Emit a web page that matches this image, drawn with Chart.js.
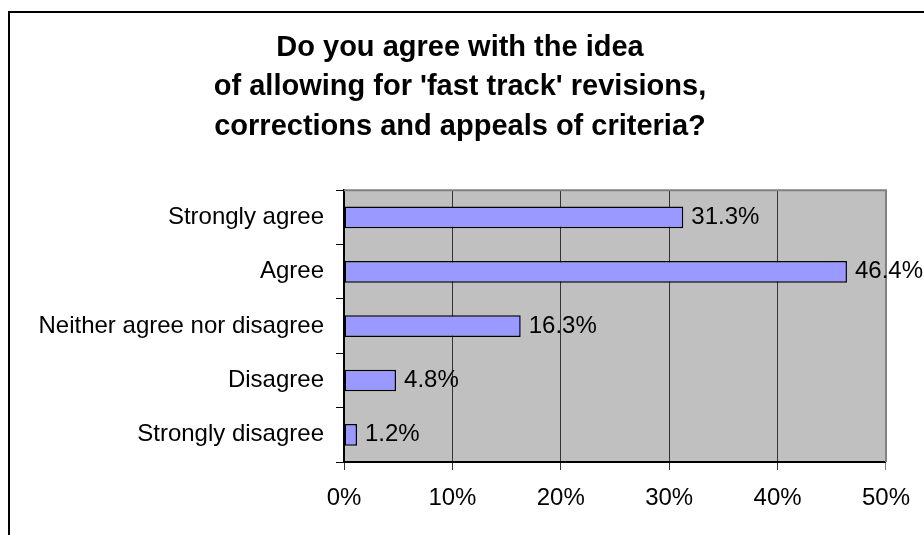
<!DOCTYPE html>
<html>
<head>
<meta charset="utf-8">
<script src="https://cdn.jsdelivr.net/npm/chart.js@4/dist/chart.umd.min.js"></script>
<style>
  html, body { margin: 0; padding: 0; background: #fff; overflow: hidden; }
  canvas { display: block; }
</style>
</head>
<body>
<canvas id="agree-chart" width="924" height="535"></canvas>
<script>
const titleLines = [
  "Do you agree with the idea",
  "of allowing for 'fast track' revisions,",
  "corrections and appeals of criteria?"
];
const answers = [
  'Strongly agree',
  'Agree',
  'Neither agree nor disagree',
  'Disagree',
  'Strongly disagree'
];
const shares = [31.3, 46.4, 16.3, 4.8, 1.2];
const xTicks = [0, 10, 20, 30, 40, 50];

const FONT = "'Liberation Sans', Arial, Helvetica, sans-serif";

// plot background, grey top/right edge, outer frame
const decorations = {
  id: 'decorations',
  beforeDraw(chart) {
    const { ctx, chartArea: a } = chart;
    ctx.save();
    ctx.fillStyle = '#c0c0c0';
    ctx.fillRect(a.left, a.top, a.right - a.left, a.bottom - a.top);
    ctx.restore();
  },
  beforeDatasetsDraw(chart) {
    const { ctx, chartArea: a } = chart;
    ctx.save();
    ctx.strokeStyle = '#808080';
    ctx.lineWidth = 2;
    ctx.beginPath();
    ctx.moveTo(a.left, a.top);
    ctx.lineTo(a.right, a.top);
    ctx.lineTo(a.right, a.bottom);
    ctx.stroke();
    ctx.restore();
  },
  afterDraw(chart) {
    const ctx = chart.ctx;
    ctx.save();
    ctx.strokeStyle = '#000';
    ctx.lineWidth = 2;
    ctx.strokeRect(9, 12, 1000, 1000);
    ctx.restore();
  }
};

// value labels to the right of each bar
const valueLabels = {
  id: 'valueLabels',
  afterDatasetsDraw(chart) {
    const ctx = chart.ctx;
    const meta = chart.getDatasetMeta(0);
    ctx.save();
    ctx.font = '24px ' + FONT;
    ctx.fillStyle = '#000';
    ctx.textAlign = 'left';
    ctx.textBaseline = 'middle';
    meta.data.forEach((bar, i) => {
      ctx.fillText(shares[i].toFixed(1) + '%', bar.x + 8, bar.y);
    });
    ctx.restore();
  }
};

new Chart(document.querySelector('#agree-chart').getContext('2d'), {
  type: 'bar',
  data: {
    labels: answers,
    datasets: [{
      label: '',
      data: shares,
      backgroundColor: '#9999ff',
      borderColor: '#000',
      borderWidth: 1.5,
      borderSkipped: false,
      barPercentage: 0.4,
      categoryPercentage: 1
    }]
  },
  options: {
    indexAxis: 'y',
    responsive: false,
    animation: false,
    layout: { padding: { left: 32, right: 36, top: 0, bottom: 0 } },
    plugins: {
      legend: { display: false },
      tooltip: { enabled: false },
      title: {
        display: true,
        text: titleLines,
        color: '#000',
        font: { family: FONT, size: 29, weight: 'bold', lineHeight: 1.36 },
        padding: { top: 28, bottom: 44 }
      }
    },
    scales: {
      x: {
        min: 0,
        max: 50,
        afterBuildTicks(scale) {
          scale.ticks = xTicks.map(v => ({ value: v }));
        },
        afterFit(scale) { scale.height = 73; },
        ticks: {
          color: '#000',
          padding: 14,
          font: { family: FONT, size: 24 },
          callback: v => v + '%'
        },
        grid: {
          color: ctx => (ctx.tick && ctx.tick.value === 50) ? '#808080' : '#333',
          lineWidth: 1,
          tickLength: 8
        },
        border: { color: '#000', width: 2 }
      },
      y: {
        afterFit(scale) { scale.width = 312; },
        ticks: {
          color: '#000',
          padding: 12,
          font: { family: FONT, size: 24 }
        },
        grid: {
          offset: true,
          drawOnChartArea: false,
          color: '#000',
          tickLength: 8
        },
        border: { color: '#000', width: 2 }
      }
    }
  },
  plugins: [decorations, valueLabels]
});
</script>
</body>
</html>
